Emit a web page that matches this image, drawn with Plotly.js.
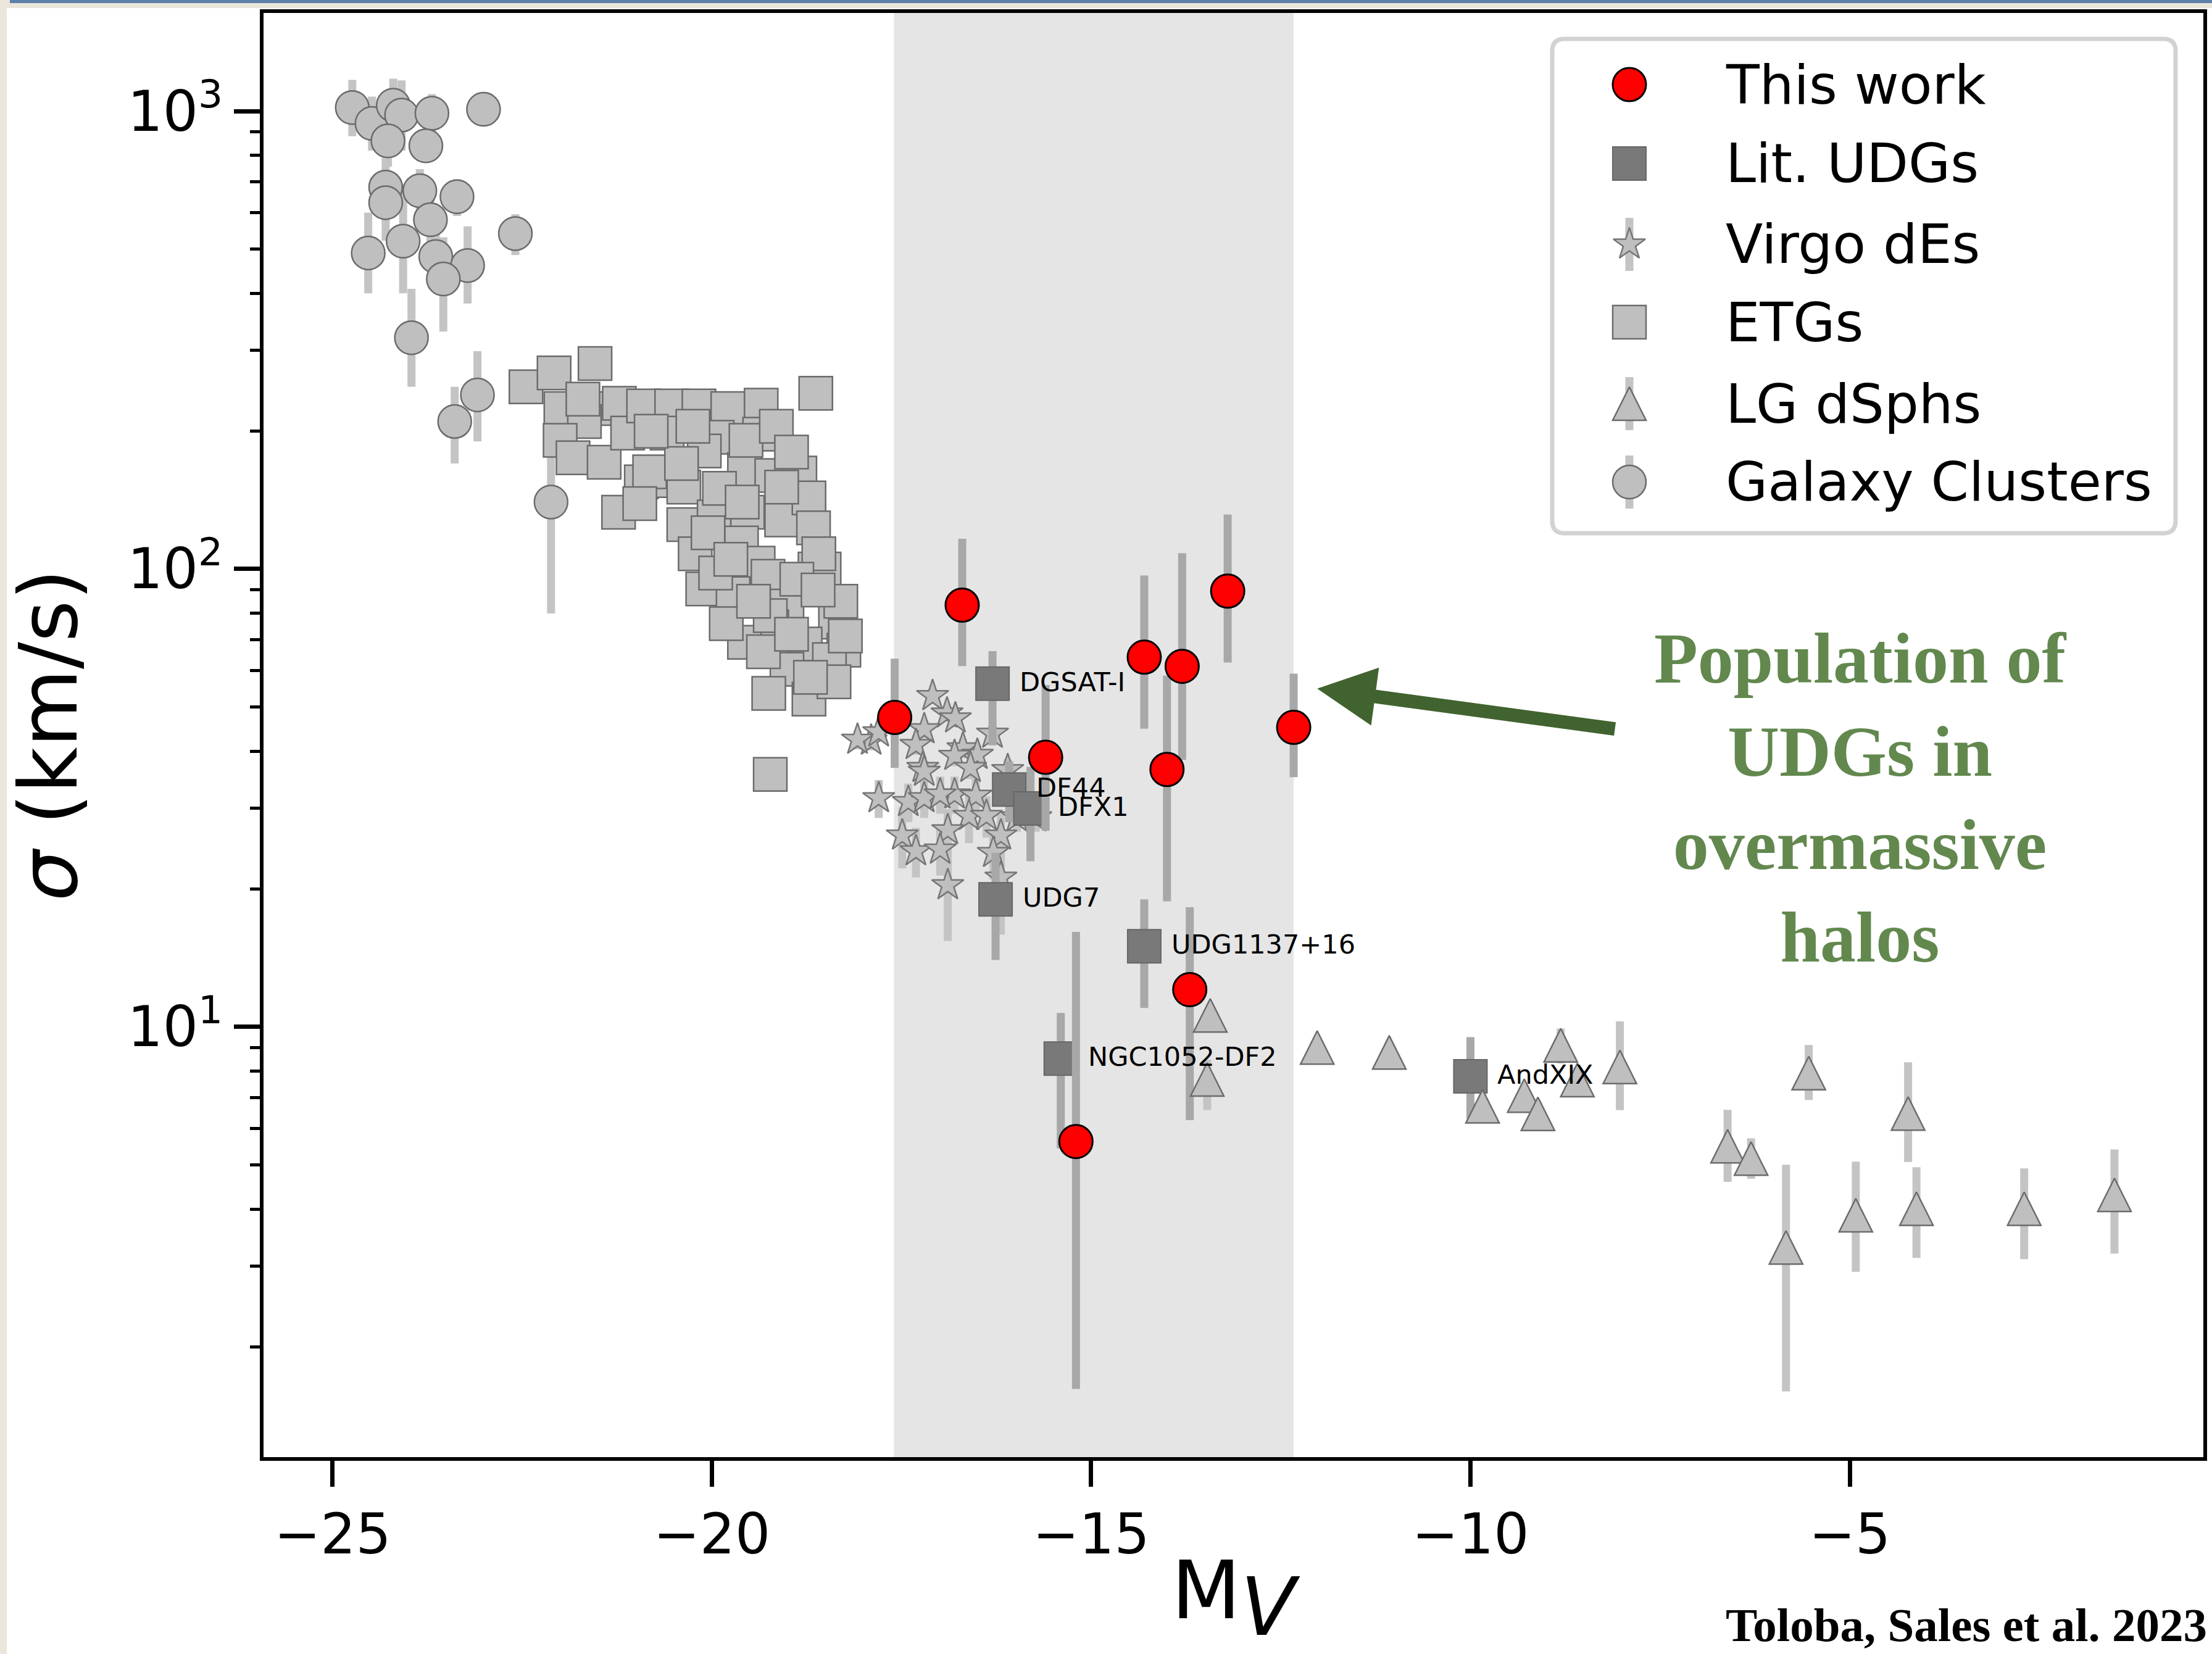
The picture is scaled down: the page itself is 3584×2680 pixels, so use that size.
<!DOCTYPE html>
<html>
<head>
<meta charset="utf-8">
<script src="https://cdn.plot.ly/plotly-3.0.1.min.js"></script>
<style>html,body{margin:0;padding:0;background:#fff;}</style>
</head>
<body>
<div id="chart" style="width:3584px;height:2680px;"></div>
<script>
// ---------------- DATA ----------------
// Galaxy clusters
const clusterMv    = [-24.74,-24.48,-24.20,-24.09,-23.69,-23.01,-24.27,-23.77,-24.30,-23.85,-23.36,-24.30,-23.71,-22.59,-24.53,-24.07,-23.64,-23.22,-23.54,-23.96,-23.09,-23.39,-22.12];
const clusterSigma = [1018,940,1030,980,989,1009,861,840,682,670,650,631,579,540,490,520,481,460,430,320,240,210,140];
const clusterErrUp = [152,136,147,187,100,30,105,40,110,77,60,110,60,55,110,170,60,100,100,89,59,40,60];
const clusterErrLo = [137,120,150,160,100,30,105,40,110,77,60,110,60,55,90,120,60,80,100,70,50,40,60];

// ETGs
const etgMv    = [-22.45,-22.08,-21.54,-18.63,-21.99,-21.53,-21.68,-22.00,-21.83,-21.42,-21.22,-21.11,-20.90,-20.53,-20.59,-20.17,-19.79,-19.35,-19.37,-19.93,
                  -20.10,-19.57,-19.21,-18.84,-20.93,-20.72,-20.37,-21.23,-20.37,-19.97,-19.53,-19.08,-18.72,-18.66,-20.22,-19.61,-19.39,-19.26,-18.64,-18.52,
                  -20.12,-19.72,-19.01,-18.37,-18.26,-19.21,-18.77,-18.45,-19.01,-19.25,-18.72,-18.39,-19.57,-19.23,-20.82,-20.95,-19.55,-19.08,-18.59,-18.88,
                  -19.23,-18.24,-19.81,-19.32,-19.95,-20.40,-19.90,-19.60,-20.05,-19.75,-19.45,-18.95,-18.70,-18.30,-18.60,-21.70,-20.80,-20.25,-19.15,-18.95];
const etgSigma = [250,268,281,242,224,224,210,191,175,171,230,198,227,227,198,227,224,228,197,194,
                  181,165,160,162,155,156,151,133,125,130,133,128,143,123,108,114,103,96.4,100,100,
                  90.5,88.4,83,76.6,66.5,74.8,68.6,63.4,60.4,53.5,52,56.7,69.2,35.6,163,139,191,151,108,95,
                  79.1,71.4,76,66,98,170,150,140,120,105,85,72,58,85,90,235,200,205,205,180];

// Virgo dEs
const dEMv    = [-17.09,-16.90,-16.79,-17.20,-16.30,-17.90,-18.08,-17.80,-17.31,-16.69,-16.50,-16.80,-17.22,-17.20,-16.59,-16.10,-17.80,
                 -17.41,-17.20,-16.80,-16.52,-16.61,-16.38,-16.89,-17.49,-16.19,-17.31,-16.99,-16.29,-16.89,-16.19,-15.73,-15.98,-16.99];
const dESigma = [52.8,48.4,47.2,44.7,43.7,42.2,42.4,44.0,41.3,40.6,39.3,39.1,36.8,36.1,36.8,36.4,31.6,
                 31.0,31.6,32.2,32.0,28.9,28.9,26.9,26.2,26.2,24.2,24.4,24.0,20.4,21.2,28.7,28.7,32.2];
const dEErr   = [2,2,2,2,2,2,2,2,2,2,2,2,2,2,2,2,3,3,3,3,3,3.7,3,3,4,3,3,3,3,5,5.3,2,2,3];

// Local Group dSphs
const dsphMv    = [-13.43,-13.47,-12.02,-11.07,-9.84,-9.29,-9.11,-8.81,-8.59,-8.03,-6.61,-6.30,-5.84,-5.54,-4.92,-4.23,-4.12,-2.70,-1.51];
const dsphSigma = [10.6,7.68,9.02,8.80,6.71,7.08,6.46,9.12,7.66,8.18,5.49,5.16,3.30,7.93,3.88,6.47,4.01,4.01,4.30];
const dsphErrUp = [0.5,0.8,0.3,0.3,0.4,0.4,0.4,0.8,0.5,2.1,1.1,0.55,1.7,1.2,1.2,1.9,0.93,0.9,1.1];
const dsphErrLo = [0.5,1.1,0.3,0.3,0.4,0.4,0.4,0.8,0.5,1.6,0.9,0.5,1.7,1.0,0.96,1.4,0.88,0.9,1.1];

// Literature UDGs
const litNames  = ['DGSAT-I','DF44','DFX1','UDG7','UDG1137+16','NGC1052-DF2','AndXIX'];
const litMv     = [-16.30,-16.08,-15.80,-16.26,-14.30,-15.40,-10.00];
const litSigma  = [56.2,33.0,30.0,19.0,15.0,8.53,7.80];
const litErrUp  = [10,5,7,5,4,2.2,1.7];
const litErrLo  = [15,5,7,5,4,3.1,1.5];

// This work
const twMv     = [-16.70,-17.59,-15.60,-14.30,-13.80,-13.20,-14.00,-12.33,-13.70,-15.20];
const twSigma  = [83.4,47.4,38.8,64.2,61.3,89.5,36.5,45.1,12.06,5.62];
const twErrUp  = [33,16.3,17,32.6,47,42,22,14,6.2,10.5];
const twErrLo  = [22,10.6,12,19.4,23,27,17.7,10,5.8,4.0];

// shaded UDG band (M_V) and arrow end points (M_V, sigma)
const udgBand   = [-17.6, -12.33];
const arrowTip  = [-12.02, 54.8];
const arrowTail = [-8.03, 44.6];

// axis ticks
const yTickVals = [10, 100, 1000];
const yTickText = ['10<sup>1</sup>', '10<sup>2</sup>', '10<sup>3</sup>'];
const legendLabels = ['This work', 'Lit. UDGs', 'Virgo dEs', 'ETGs', 'LG dSphs', 'Galaxy Clusters'];

// ---------------- LAYOUT CONSTANTS ----------------
const W = 3584, H = 2680;
const M = {l: 427, r: 14, t: 21, b: 319};
const plotW = W - M.l - M.r, plotH = H - M.t - M.b;
const xRange = [-25.91, -0.338];
const yRangeLog = [0.0606, 3.2143];
const triShift = 27;                       // px: centre the arrow-up triangles on their values
const triDom = triShift / plotH;
const y3Range = [yRangeLog[0], yRangeLog[0] + (yRangeLog[1] - yRangeLog[0]) * (1 - triDom)];
const px2fx = px => (px - M.l) / plotW;
const py2fy = py => (M.t + plotH - py) / plotH;

const minorVals = [];
[1, 10, 100].forEach(d => { for (let k = 2; k <= 9; k++) minorVals.push(k * d); });

const lightFill = '#bfbfbf', edge = '#6b6b6b';
const lightBar = '#c4c4c4', darkBar = '#a8a8a8';
function errY(up, lo, color) {
  return {type: 'data', symmetric: false, array: up, arrayminus: lo, color: color, thickness: 13, width: 0, visible: true};
}

const traces = [
  {type: 'scatter', mode: 'markers', x: clusterMv, y: clusterSigma, name: 'Galaxy Clusters',
   marker: {symbol: 'circle', size: 54, color: lightFill, opacity: 1, line: {color: edge, width: 2.5}},
   error_y: errY(clusterErrUp, clusterErrLo, lightBar)},
  {type: 'scatter', mode: 'markers', x: etgMv, y: etgSigma, name: 'ETGs',
   marker: {symbol: 'square', size: 54, color: lightFill, opacity: 1, line: {color: edge, width: 2.5}}},
  {type: 'scatter', mode: 'markers', x: dEMv, y: dESigma, name: 'Virgo dEs',
   marker: {symbol: 'star', size: 39, color: lightFill, opacity: 1, line: {color: '#767676', width: 2.5}},
   error_y: errY(dEErr, dEErr, lightBar)},
  {type: 'scatter', mode: 'markers', x: dsphMv, y: dsphSigma, name: 'LG dSphs errors',
   marker: {size: 1, opacity: 0}, error_y: errY(dsphErrUp, dsphErrLo, lightBar)},
  {type: 'scatter', mode: 'markers', x: litMv, y: litSigma, name: 'Lit. UDGs',
   marker: {symbol: 'square', size: 54, color: '#797979', opacity: 1, line: {color: '#666666', width: 2}},
   error_y: errY(litErrUp, litErrLo, darkBar)},
  {type: 'scatter', mode: 'markers', x: twMv, y: twSigma, name: 'This work',
   marker: {symbol: 'circle', size: 54, color: '#ff0000', opacity: 1, line: {color: '#000000', width: 3}},
   error_y: errY(twErrUp, twErrLo, darkBar)},
  {type: 'scatter', mode: 'markers', x: dsphMv, y: dsphSigma, yaxis: 'y3', name: 'LG dSphs',
   marker: {symbol: 'arrow-up', size: 54, color: lightFill, opacity: 1, line: {color: edge, width: 2.5}}}
];

// ---- custom legend (large symbols) on an overlay axis ----
const legRows = [137, 265, 396, 522, 654, 781].map(py2fy);
const legMX = px2fx(2640);
const legTriUp = triShift / plotH;
traces.push({type: 'scatter', mode: 'markers', xaxis: 'x2', yaxis: 'y2',
  x: [legMX, legMX, legMX], y: [legRows[2], legRows[4], legRows[5]],
  marker: {size: 1, opacity: 0},
  error_y: {type: 'data', symmetric: true, array: [43 / plotH, 43 / plotH, 43 / plotH], color: lightBar, thickness: 13, width: 0}});
traces.push({type: 'scatter', mode: 'markers', xaxis: 'x2', yaxis: 'y2',
  x: legRows.map(() => legMX),
  y: [legRows[0], legRows[1], legRows[2], legRows[3], legRows[4] + legTriUp, legRows[5]],
  marker: {
    opacity: 1,
    symbol: ['circle', 'square', 'star', 'square', 'arrow-up', 'circle'],
    size: [54, 54, 39, 54, 54, 54],
    color: ['#ff0000', '#797979', lightFill, lightFill, lightFill, lightFill],
    line: {color: ['#000000', '#666666', '#767676', edge, edge, edge], width: [3, 2, 2.5, 2.5, 2.5, 2.5]}
  }});

const annotations = [];
litNames.forEach((n, i) => annotations.push({
  x: litMv[i], y: Math.log10(litSigma[i]), xref: 'x', yref: 'y', text: n, showarrow: false,
  xanchor: 'left', yanchor: 'middle', xshift: 42, yshift: 3, font: {size: 43, color: '#000'}
}));
annotations.push({
  x: arrowTip[0], y: Math.log10(arrowTip[1]), xref: 'x', yref: 'y',
  ax: arrowTail[0], ay: Math.log10(arrowTail[1]), axref: 'x', ayref: 'y',
  text: ' ', showarrow: true, arrowhead: 2, arrowsize: 0.86, arrowwidth: 22, arrowcolor: '#41632f'
});
annotations.push({
  x: px2fx(3014), y: py2fy(1293), xref: 'paper', yref: 'paper', showarrow: false,
  text: 'Population of<br>UDGs in<br>overmassive<br>halos', align: 'center',
  xanchor: 'center', yanchor: 'middle',
  font: {family: 'Liberation Serif', size: 116, color: '#62884e', weight: 'bold'}
});
annotations.push({
  x: px2fx(3578), y: py2fy(2633), xref: 'paper', yref: 'paper', showarrow: false,
  text: 'Toloba, Sales et al. 2023', xanchor: 'right', yanchor: 'middle',
  font: {family: 'Liberation Serif', size: 77, color: '#000', weight: 'bold'}
});
legendLabels.forEach((t, i) => annotations.push({
  x: px2fx(2794), y: legRows[i], xref: 'paper', yref: 'paper', text: t, showarrow: false,
  xanchor: 'left', yanchor: 'middle', font: {size: 88, color: '#000'}
}));

// legend frame (rounded rectangle) in paper coordinates
const bx0 = 2515, bx1 = 3525, by0 = 63, by1 = 864, rr = 20;
const P = (px, py) => px2fx(px).toFixed(5) + ',' + py2fy(py).toFixed(5);
const legPath = 'M' + P(bx0 + rr, by0) + ' L' + P(bx1 - rr, by0) + ' Q' + P(bx1, by0) + ' ' + P(bx1, by0 + rr) +
  ' L' + P(bx1, by1 - rr) + ' Q' + P(bx1, by1) + ' ' + P(bx1 - rr, by1) +
  ' L' + P(bx0 + rr, by1) + ' Q' + P(bx0, by1) + ' ' + P(bx0, by1 - rr) +
  ' L' + P(bx0, by0 + rr) + ' Q' + P(bx0, by0) + ' ' + P(bx0 + rr, by0) + ' Z';

const shapes = [
  {type: 'rect', xref: 'x', yref: 'paper', x0: udgBand[0], x1: udgBand[1], y0: 0, y1: 1,
   fillcolor: '#e5e5e5', line: {width: 0}, layer: 'below'},
  {type: 'path', xref: 'paper', yref: 'paper', path: legPath, fillcolor: '#ffffff',
   line: {color: '#d2d2d2', width: 7}, layer: 'below'},
  // slide frame remnants (left texture strip, top bar)
  {type: 'rect', xref: 'paper', yref: 'paper', x0: px2fx(0), x1: px2fx(11), y0: py2fy(H), y1: py2fy(0),
   fillcolor: '#ebe6dc', line: {width: 0}, layer: 'above'},
  {type: 'rect', xref: 'paper', yref: 'paper', x0: px2fx(0), x1: px2fx(W), y0: py2fy(13), y1: py2fy(0),
   fillcolor: '#ebe6dc', line: {width: 0}, layer: 'above'},
  {type: 'rect', xref: 'paper', yref: 'paper', x0: px2fx(16), x1: px2fx(W), y0: py2fy(5), y1: py2fy(0),
   fillcolor: '#5d80a9', line: {width: 0}, layer: 'above'}
];

const layout = {
  width: W, height: H,
  margin: M,
  paper_bgcolor: '#ffffff', plot_bgcolor: 'rgba(0,0,0,0)',
  font: {family: 'DejaVu Sans', color: '#000000', size: 40},
  showlegend: false,
  xaxis: {
    range: xRange, showline: true, mirror: true, linecolor: '#000', linewidth: 6,
    ticks: 'outside', ticklen: 42, tickwidth: 7, tickcolor: '#000',
    tickmode: 'linear', tick0: 0, dtick: 5, showgrid: false, zeroline: false,
    tickfont: {size: 90}, automargin: false,
    title: {text: 'M<sub><span style="font-size:130px"><i>V</i></span></sub>', font: {size: 130}, standoff: 10}
  },
  yaxis: {
    type: 'log', range: yRangeLog, showline: true, mirror: true, linecolor: '#000', linewidth: 6,
    ticks: 'outside', ticklen: 42, tickwidth: 7, tickcolor: '#000',
    tickmode: 'array', tickvals: yTickVals, ticktext: yTickText,
    minor: {tickmode: 'array', tickvals: minorVals, ticks: 'outside', ticklen: 16, tickwidth: 5, tickcolor: '#000', showgrid: false},
    showgrid: false, zeroline: false, tickfont: {size: 90}, automargin: false,
    title: {text: '<i>σ</i> (km/s)', font: {size: 130}, standoff: 40}
  },
  yaxis3: {type: 'log', domain: [triDom, 1], range: y3Range, anchor: 'x', visible: false, showgrid: false, zeroline: false},
  xaxis2: {overlaying: 'x', range: [0, 1], visible: false, anchor: 'y2', showgrid: false, zeroline: false},
  yaxis2: {overlaying: 'y', range: [0, 1], visible: false, anchor: 'x2', showgrid: false, zeroline: false},
  shapes: shapes,
  annotations: annotations
};

Plotly.newPlot('chart', traces, layout, {displayModeBar: false, staticPlot: true});
</script>
</body>
</html>
